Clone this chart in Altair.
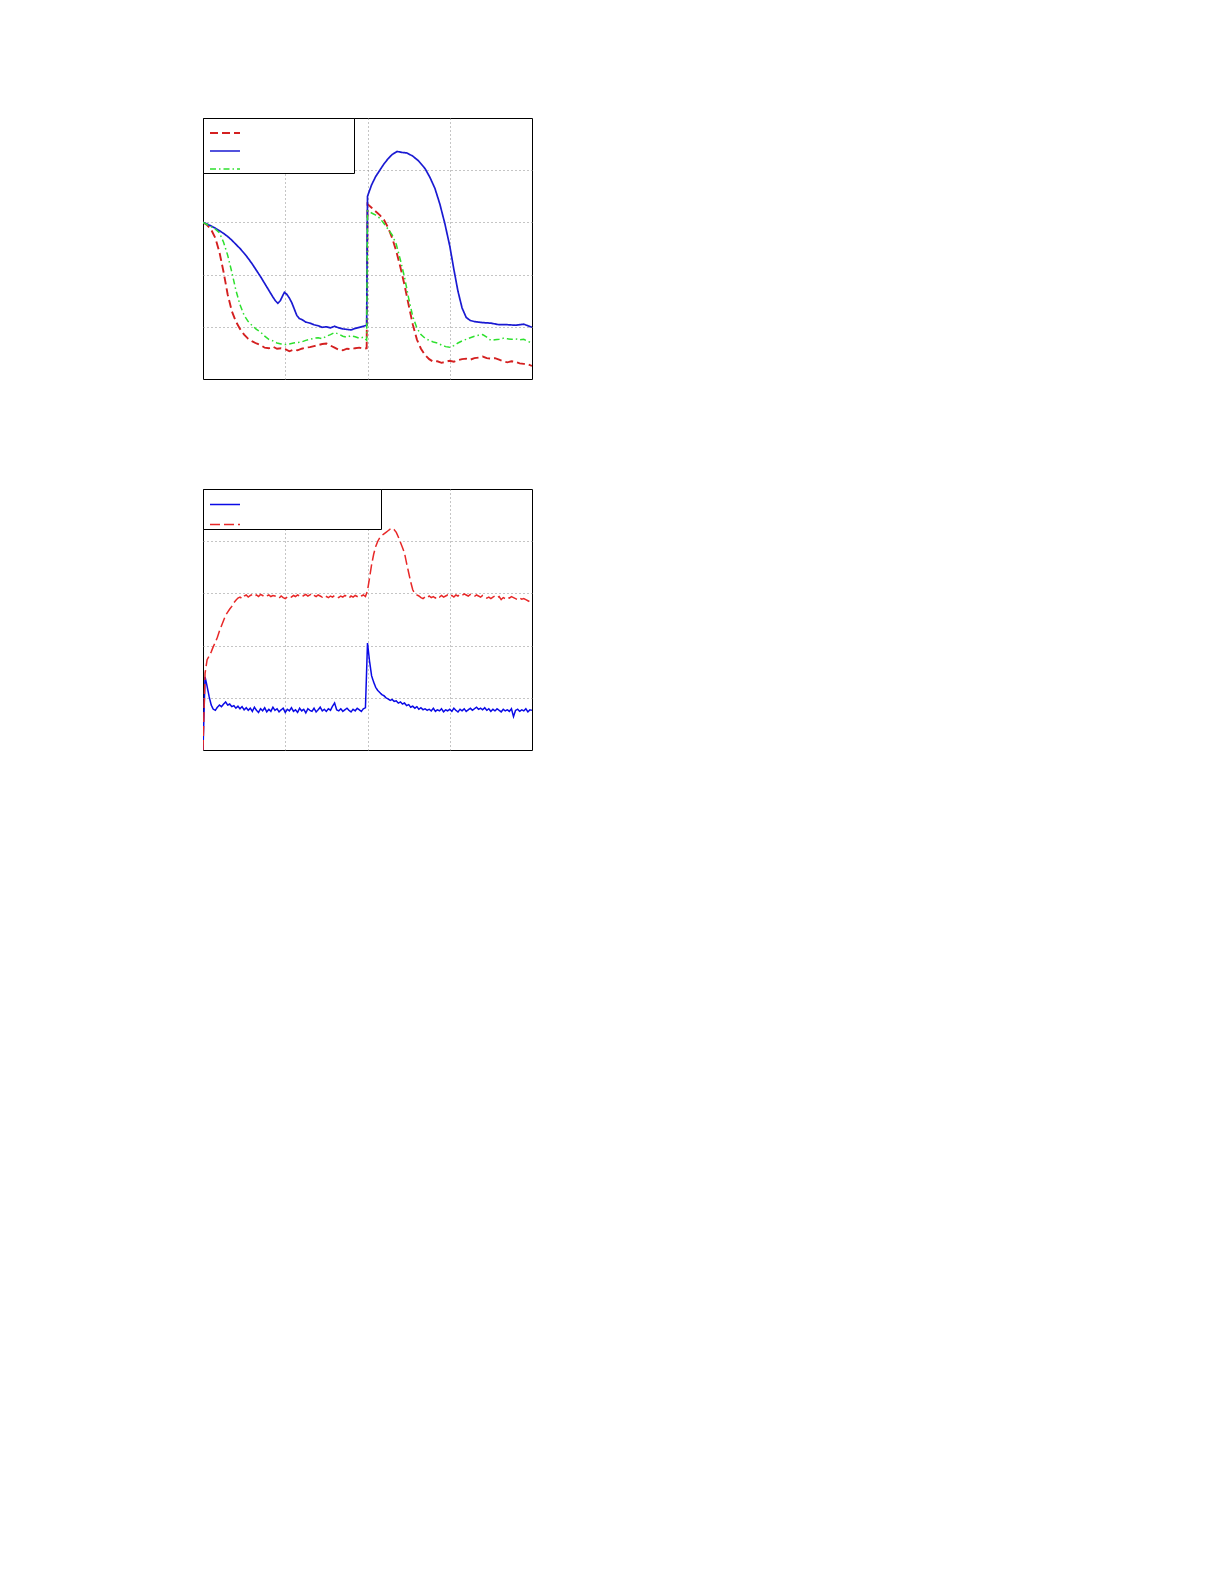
import altair as alt
import pandas as pd

# ---------------- Panel 1 data ----------------
P1_SERIES = ["red", "blue", "green"]

P1_BLUE_X = [0.00, 0.05, 0.10, 0.15, 0.20, 0.25, 0.30, 0.35, 0.40, 0.45, 0.50, 0.55, 0.60, 0.65, 0.70,
             0.75, 0.80, 0.85, 0.88, 0.91, 0.94, 0.97, 0.99, 1.02, 1.05, 1.08, 1.11, 1.14, 1.17, 1.20,
             1.25, 1.30, 1.35, 1.40, 1.45, 1.50, 1.55, 1.60, 1.65, 1.70, 1.75, 1.80, 1.85, 1.90, 1.95,
             1.99, 2.00, 2.05, 2.10, 2.15, 2.20, 2.25, 2.30, 2.36, 2.42, 2.48, 2.55, 2.62, 2.70, 2.76,
             2.82, 2.88, 2.94, 3.00, 3.05, 3.10, 3.15, 3.20, 3.25, 3.30, 3.40, 3.50, 3.60, 3.70, 3.80,
             3.90, 4.00]
P1_BLUE_Y = [3.00, 2.97, 2.93, 2.89, 2.84, 2.79, 2.73, 2.66, 2.58, 2.50, 2.41, 2.31, 2.20, 2.08, 1.96,
             1.83, 1.70, 1.57, 1.50, 1.45, 1.50, 1.60, 1.66, 1.62, 1.55, 1.46, 1.34, 1.22, 1.16, 1.14,
             1.09, 1.07, 1.04, 1.02, 0.99, 1.00, 0.98, 1.01, 0.98, 0.96, 0.95, 0.94, 0.97, 0.99, 1.01,
             1.03, 3.50, 3.72, 3.88, 4.00, 4.12, 4.22, 4.30, 4.36, 4.34, 4.33, 4.27, 4.18, 4.03, 3.86,
             3.65, 3.35, 2.98, 2.55, 2.10, 1.68, 1.36, 1.18, 1.12, 1.10, 1.08, 1.07, 1.04, 1.04, 1.03,
             1.05, 0.99]

P1_RED_X = [0.00, 0.05, 0.10, 0.15, 0.20, 0.25, 0.30, 0.35, 0.40, 0.45, 0.50, 0.55, 0.60, 0.65, 0.70,
            0.75, 0.80, 0.85, 0.90, 0.95, 1.00, 1.05, 1.10, 1.15, 1.20, 1.25, 1.30, 1.35, 1.40, 1.45,
            1.50, 1.55, 1.60, 1.65, 1.70, 1.75, 1.80, 1.85, 1.90, 1.95, 1.99, 2.00, 2.05, 2.10, 2.15,
            2.20, 2.25, 2.30, 2.35, 2.40, 2.45, 2.50, 2.55, 2.60, 2.65, 2.70, 2.75, 2.80, 2.85, 2.90,
            2.95, 3.00, 3.05, 3.10, 3.15, 3.20, 3.25, 3.30, 3.35, 3.40, 3.45, 3.50, 3.55, 3.60, 3.65,
            3.70, 3.75, 3.80, 3.85, 3.90, 3.95, 4.00]
P1_RED_Y = [3.00, 2.95, 2.86, 2.70, 2.43, 2.05, 1.62, 1.30, 1.10, 0.96, 0.85, 0.77, 0.72, 0.68, 0.65,
            0.60, 0.59, 0.62, 0.58, 0.59, 0.57, 0.53, 0.56, 0.55, 0.58, 0.60, 0.61, 0.63, 0.65, 0.67,
            0.68, 0.64, 0.60, 0.56, 0.55, 0.58, 0.57, 0.59, 0.60, 0.58, 0.59, 3.35, 3.28, 3.21, 3.14,
            3.05, 2.90, 2.70, 2.45, 2.14, 1.80, 1.42, 1.05, 0.76, 0.58, 0.46, 0.38, 0.33, 0.34, 0.31,
            0.33, 0.35, 0.33, 0.36, 0.38, 0.39, 0.37, 0.40, 0.41, 0.43, 0.40, 0.39, 0.40, 0.37, 0.34,
            0.32, 0.34, 0.33, 0.30, 0.29, 0.28, 0.25]

P1_GREEN_X = P1_RED_X
P1_GREEN_Y = [3.00, 2.96, 2.92, 2.87, 2.80, 2.62, 2.37, 2.05, 1.70, 1.42, 1.22, 1.10, 1.02, 0.95, 0.90,
              0.82, 0.76, 0.73, 0.69, 0.67, 0.66, 0.67, 0.69, 0.70, 0.71, 0.74, 0.76, 0.78, 0.79, 0.77,
              0.82, 0.85, 0.89, 0.86, 0.82, 0.80, 0.83, 0.81, 0.78, 0.80, 0.74, 3.22, 3.18, 3.14, 3.08,
              2.98, 2.87, 2.76, 2.58, 2.28, 1.95, 1.55, 1.20, 0.98, 0.85, 0.78, 0.74, 0.71, 0.69, 0.65,
              0.62, 0.61, 0.64, 0.69, 0.73, 0.76, 0.79, 0.82, 0.84, 0.85, 0.80, 0.74, 0.75, 0.76, 0.78,
              0.77, 0.76, 0.77, 0.75, 0.76, 0.72, 0.69]

# ---------------- Panel 2 data (sampled every 0.025) ----------------
P2_SERIES = ["blue", "red"]
P2_X = [round(i * 0.025, 3) for i in range(161)]
P2_BLUE_Y = [0.00, 1.40, 1.22, 1.02, 0.86, 0.78, 0.76, 0.82, 0.86, 0.83,
             0.88, 0.92, 0.86, 0.88, 0.83, 0.85, 0.80, 0.84, 0.79, 0.83,
             0.77, 0.81, 0.76, 0.80, 0.74, 0.82, 0.76, 0.72, 0.79, 0.75,
             0.81, 0.73, 0.78, 0.74, 0.82, 0.76, 0.79, 0.73, 0.77, 0.80,
             0.72, 0.78, 0.75, 0.81, 0.74, 0.77, 0.72, 0.80, 0.75, 0.78,
             0.71, 0.79, 0.76, 0.74, 0.80, 0.73, 0.77, 0.82, 0.75, 0.78,
             0.74, 0.79, 0.76, 0.84, 0.90, 0.77, 0.75, 0.79, 0.74, 0.77,
             0.80, 0.76, 0.73, 0.78, 0.75, 0.80, 0.77, 0.74, 0.79, 0.81,
             2.05, 1.70, 1.42, 1.30, 1.20, 1.14, 1.10, 1.06, 1.04, 1.00,
             0.98, 0.95, 0.97, 0.93, 0.94, 0.90, 0.92, 0.88, 0.90, 0.85,
             0.87, 0.82, 0.84, 0.80, 0.83, 0.78, 0.81, 0.77, 0.79, 0.76,
             0.78, 0.75, 0.80, 0.74, 0.77, 0.75, 0.79, 0.73, 0.77, 0.75,
             0.78, 0.74, 0.80, 0.76, 0.73, 0.78, 0.75, 0.79, 0.74, 0.77,
             0.80, 0.76, 0.79, 0.82, 0.78, 0.80, 0.77, 0.81, 0.76, 0.79,
             0.74, 0.78, 0.75, 0.79, 0.76, 0.73, 0.78, 0.75, 0.77, 0.74,
             0.79, 0.64, 0.76, 0.78, 0.74, 0.77, 0.75, 0.79, 0.73, 0.77,
             0.76]
P2_RED_Y = [0.00, 1.47, 1.73, 1.80, 1.88, 1.98, 2.06, 2.16, 2.28, 2.38,
            2.48, 2.58, 2.64, 2.70, 2.75, 2.82, 2.87, 2.91, 2.93, 2.90,
            2.95, 2.97, 2.93, 2.96, 2.98, 2.95, 2.97, 2.94, 2.98, 2.96,
            2.93, 2.95, 2.97, 2.94, 2.96, 2.95, 2.93, 2.91, 2.95, 2.92,
            2.90, 2.93, 2.95, 2.93, 2.96, 2.94, 2.97, 2.95, 2.93, 2.96,
            2.98, 2.95, 2.97, 3.00, 2.96, 2.94, 2.97, 2.95, 2.93, 2.96,
            2.94, 2.92, 2.95, 2.93, 2.96, 2.94, 2.92, 2.95, 2.93, 2.96,
            2.94, 2.91, 2.95, 2.93, 2.96, 2.94, 2.92, 2.95, 2.97, 2.94,
            3.05, 3.30, 3.55, 3.75, 3.90, 4.00, 4.07, 4.11, 4.14, 4.17,
            4.20, 4.23, 4.25, 4.22, 4.17, 4.08, 3.98, 3.88, 3.77, 3.58,
            3.40, 3.22, 3.07, 3.00, 2.97, 2.95, 2.92, 2.90, 2.93, 2.91,
            2.95, 2.92, 2.94, 2.91, 2.95, 2.93, 2.96, 2.93, 2.95, 2.97,
            2.94, 2.96, 2.93, 2.97, 2.95, 2.98, 2.96, 2.99, 2.97, 2.95,
            2.98, 2.96, 2.94, 2.97, 2.95, 2.93, 2.96, 2.94, 2.91, 2.93,
            2.90, 2.93, 2.95, 2.92, 2.94, 2.88, 2.92, 2.90, 2.93, 2.91,
            2.94, 2.92, 2.90, 2.88, 2.91, 2.89, 2.90, 2.88, 2.86, 2.84,
            2.86]

# ---------------- tables ----------------
def table(series, xs, ys, order):
    return pd.DataFrame({"s": series, "x": xs, "y": ys, "o": order})

df1 = pd.concat([
    table("red", P1_RED_X, P1_RED_Y, 0),
    table("blue", P1_BLUE_X, P1_BLUE_Y, 1),
    table("green", P1_GREEN_X, P1_GREEN_Y, 2),
], ignore_index=True)

df2 = pd.concat([
    table("blue", P2_X, P2_BLUE_Y, 0),
    table("red", P2_X, P2_RED_Y, 1),
], ignore_index=True)

W, H = 329, 261
xgrid = alt.Axis(values=[1, 2, 3], labels=False, ticks=False, domain=False, title=None,
                 grid=True, gridColor="#8a8a8a", gridDash=[1, 3], gridWidth=1)
ygrid = alt.Axis(values=[1, 2, 3, 4], labels=False, ticks=False, domain=False, title=None,
                 grid=True, gridColor="#8a8a8a", gridDash=[1, 3], gridWidth=1)


def make_legend(label_offset, font_size, row_pad, pad, sym_off, sym_type, sym_size):
    return alt.Legend(orient="none", legendX=0, legendY=0, title=None, labelExpr="''",
                      labelOffset=label_offset, labelFontSize=font_size, rowPadding=row_pad,
                      padding=pad, symbolOffset=sym_off, symbolType=sym_type, symbolSize=sym_size,
                      symbolStrokeWidth=1.6, strokeColor="black", fillColor="white",
                      cornerRadius=0, offset=0)


# horizontal legend sample line, 30 px long
leg1 = make_legend(113.5, 2, 0, 1, 7, "M-1.165,0L1.165,0", 663)
c1 = alt.Chart(df1).mark_line(clip=True).encode(
    x=alt.X("x:Q", scale=alt.Scale(domain=[0, 4], nice=False, zero=False), axis=xgrid),
    y=alt.Y("y:Q", scale=alt.Scale(domain=[0, 5], nice=False), axis=ygrid),
    color=alt.Color("s:N", scale=alt.Scale(domain=P1_SERIES,
                                           range=["#d42020", "#1a1ad2", "#2ee02e"]), legend=leg1),
    strokeDash=alt.StrokeDash("s:N", scale=alt.Scale(domain=P1_SERIES,
                                                     range=[[8, 4], [1, 0], [6, 3, 1.5, 3]]), legend=leg1),
    strokeWidth=alt.StrokeWidth("s:N", scale=alt.Scale(domain=P1_SERIES, range=[1.9, 1.5, 1.5]),
                                legend=None),
    order="o:Q",
).properties(width=W, height=H)

leg2 = make_legend(140.5, 2, 2, 1, 6.5, "M-1.111,0L1.111,0", 729)
c2 = alt.Chart(df2).mark_line(clip=True).encode(
    x=alt.X("x:Q", scale=alt.Scale(domain=[0, 4], nice=False, zero=False), axis=xgrid),
    y=alt.Y("y:Q", scale=alt.Scale(domain=[0, 5], nice=False), axis=ygrid),
    color=alt.Color("s:N", scale=alt.Scale(domain=P2_SERIES,
                                           range=["#0a0ae6", "#e82828"]), legend=leg2),
    strokeDash=alt.StrokeDash("s:N", scale=alt.Scale(domain=P2_SERIES,
                                                     range=[[1, 0], [10, 4]]), legend=leg2),
    strokeWidth=alt.value(1.5),
    order="o:Q",
).properties(width=W, height=H)

chart = alt.vconcat(c1, c2, spacing=108).properties(
    padding={"left": 194, "top": 109, "right": 5, "bottom": 5},
    background="white",
).configure_view(stroke="black", strokeWidth=1).resolve_scale(color="independent",
                                                              strokeDash="independent",
                                                              strokeWidth="independent")

chart.save("out.html", embed_options={"renderer": "svg", "actions": False})
